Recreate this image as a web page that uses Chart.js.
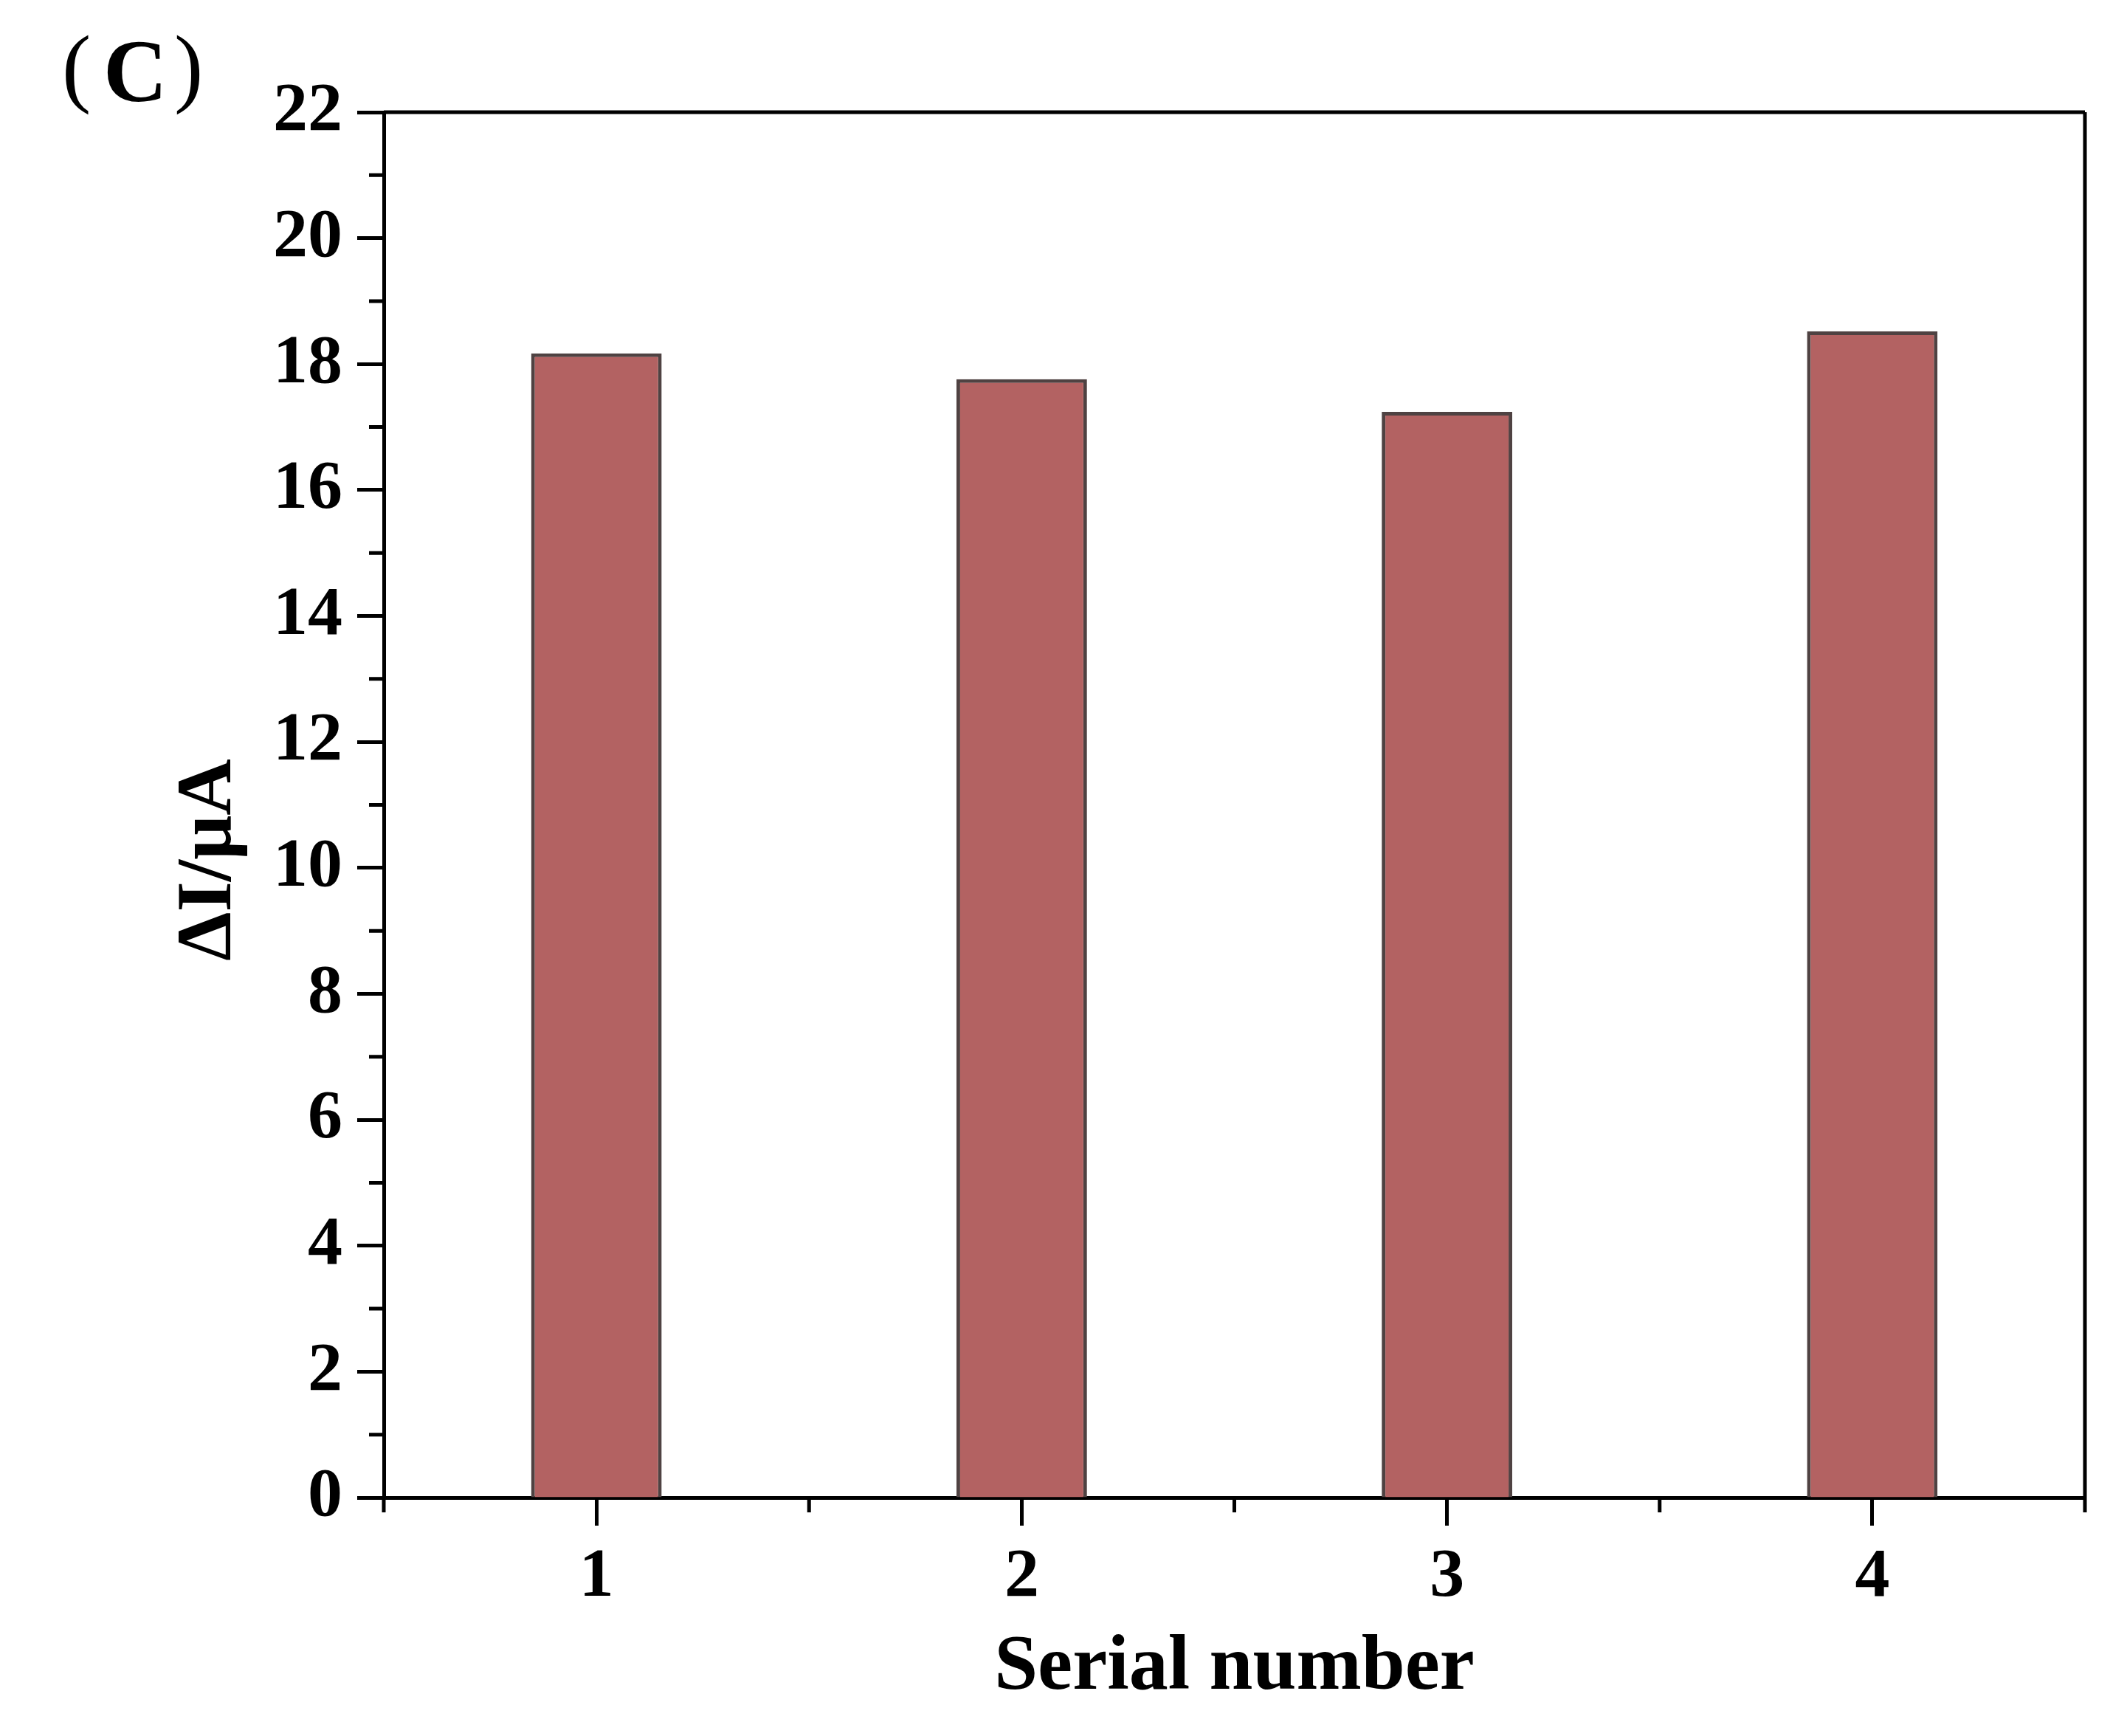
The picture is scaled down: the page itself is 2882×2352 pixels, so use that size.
<!DOCTYPE html>
<html>
<head>
<meta charset="utf-8">
<script src="https://cdn.jsdelivr.net/npm/chart.js@4"></script>
<style>
  html, body { margin: 0; padding: 0; background: #fff; }
  #wrap { width: 2882px; height: 2352px; position: relative; }
</style>
</head>
<body>
<div id="wrap"><canvas id="barChart"></canvas></div>
<script>
var serials = ["1", "2", "3", "4"];
var deltaI = [18.17, 17.76, 17.24, 18.52];
var yTicks = [0, 2, 4, 6, 8, 10, 12, 14, 16, 18, 20, 22];

var serif = "'Liberation Serif', 'Times New Roman', serif";

// frame, minor ticks, panel label and y title
var extras = {
    id: 'extras',
    afterDraw: function (chart) {
        var c = chart.ctx, a = chart.chartArea;
        var xs = chart.scales.x, ys = chart.scales.y;
        c.save();
        c.strokeStyle = '#000';
        c.lineWidth = 5;
        c.beginPath();
        c.moveTo(a.left, a.top); c.lineTo(a.right, a.top);
        c.moveTo(a.right, a.top); c.lineTo(a.right, a.bottom);
        // y minor ticks
        for (var v = 1; v < 22; v += 2) {
            var py = ys.getPixelForValue(v);
            c.moveTo(a.left - 20, py); c.lineTo(a.left, py);
        }
        // x minor ticks between categories
        for (var i = -1; i < serials.length; i++) {
            var px = xs.getPixelForValue(i + 0.5);
            c.moveTo(px, a.bottom); c.lineTo(px, a.bottom + 20);
        }
        c.stroke();

        c.fillStyle = '#000';
        c.textBaseline = 'alphabetic';
        c.font = "118px " + serif;
        c.fillText('(', 84, 130);
        c.font = "bold 120px " + serif;
        c.fillText('C', 140, 137);
        c.font = "118px " + serif;
        c.fillText(')', 236, 130);

        c.translate(285, 1165);
        c.rotate(-Math.PI / 2);
        c.textAlign = 'center';
        c.textBaseline = 'middle';
        c.font = "bold 106px " + serif;
        c.fillText('ΔI/μA', 0, 0);
        c.restore();
    }
};

var ctx = document.getElementById('barChart');
var myChart = new Chart(ctx, {
    type: 'bar',
    data: {
        labels: serials,
        datasets: [{
            label: 'ΔI/μA',
            data: deltaI,
            backgroundColor: '#b36262',
            borderColor: '#4f4242',
            borderWidth: 5,
            barPercentage: 0.307,
            categoryPercentage: 1
        }]
    },
    options: {
        responsive: true,
        maintainAspectRatio: false,
        animation: false,
        layout: { padding: { left: 0, top: 152, right: 57, bottom: 0 } },
        plugins: {
            legend: { display: false },
            tooltip: { enabled: false }
        },
        scales: {
            x: {
                offset: true,
                afterFit: function (s) { s.height = 323; },
                border: { display: true, color: '#000', width: 5 },
                grid: {
                    offset: false,
                    drawOnChartArea: false,
                    drawTicks: true,
                    tickLength: 38,
                    tickWidth: 5,
                    tickColor: '#000'
                },
                ticks: {
                    color: '#000',
                    padding: 14,
                    font: { family: serif, size: 94, weight: 'bold' }
                },
                title: {
                    display: true,
                    text: 'Serial number',
                    color: '#000',
                    font: { family: serif, size: 106, weight: 'bold' },
                    padding: { top: 0, bottom: 28 }
                }
            },
            y: {
                min: 0,
                max: 22,
                afterFit: function (s) { s.width = 520; },
                afterBuildTicks: function (s) {
                    s.ticks = yTicks.map(function (v) { return { value: v }; });
                },
                border: { display: true, color: '#000', width: 5 },
                grid: {
                    drawOnChartArea: false,
                    drawTicks: true,
                    tickLength: 36,
                    tickWidth: 5,
                    tickColor: '#000'
                },
                ticks: {
                    color: '#000',
                    padding: 20,
                    font: { family: serif, size: 94, weight: 'bold' }
                }
            }
        }
    },
    plugins: [extras]
});
</script>
</body>
</html>
